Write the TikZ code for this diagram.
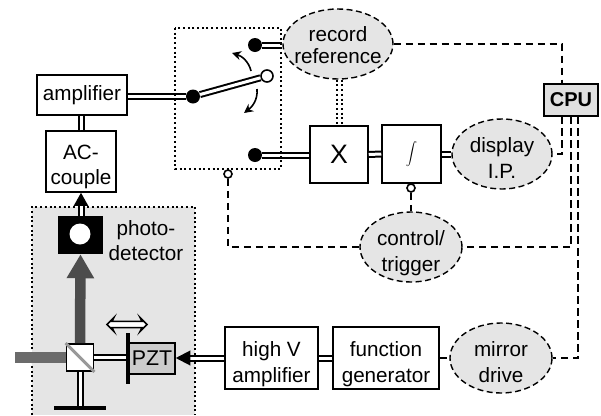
\documentclass[tikz,border=0pt]{standalone}
\usepackage{fontspec}
\setmainfont{Liberation Sans}
\usetikzlibrary{arrows.meta,shapes.geometric,shapes.arrows,calc}
\definecolor{panel}{gray}{0.9}
\definecolor{pztgray}{gray}{0.8}
\definecolor{beamdark}{gray}{0.3}
\definecolor{beamlight}{gray}{0.42}
\newlength{\pix}\setlength{\pix}{0.75pt}
\tikzset{
  txt/.style={font=\fontsize{15.5}{18.8}\selectfont,align=center,text=black},
  blockbox/.style={draw,line width=1.5\pix,fill=white,inner sep=0pt,txt,minimum width=#1},
  ovalnode/.style={ellipse,draw,dash pattern=on 6\pix off 3.5\pix,line width=1.4\pix,fill=panel,inner sep=-30pt,txt,minimum width=#1,minimum height=70\pix},
  dbl/.style={double,double distance=3\pix,line width=2\pix},
  sig/.style={dash pattern=on 7.5\pix off 4.5\pix,line width=1.4\pix},
  dotline/.style={dash pattern=on 2\pix off 2.7\pix,line width=2\pix},
  dotblack/.style={circle,fill=black,inner sep=0pt,minimum size=#1},
  dotopen/.style={circle,draw,line width=1.6\pix,fill=white,inner sep=0pt,minimum size=#1},
  bent/.style={line width=1.6\pix,-{Stealth[length=6.75pt,width=6.75pt]}},
  baselow/.style={text height=#1,text depth=0pt},
  pic px/.style={x=\pix,y=-\pix},
}
\begin{document}
\begin{tikzpicture}[pic px]
\useasboundingbox (0,0) rectangle (601,415);
% grey panel
\fill[panel] (32,207) rectangle (195,415);
\draw[dotline] (32,415) -- (32,207) -- (195,207) -- (195,415);
% blocks
\node[blockbox=90\pix,minimum height=40\pix] (amp) at (82,95) {amplifier};
\node[blockbox=70\pix,minimum height=61\pix,baselow=35pt] (ac) at (81,161.5) {AC-\\couple};
\node[blockbox=58\pix,minimum height=57\pix,font=\fontsize{20}{24}\selectfont] (mult) at (339,154.5) {X};
\node[blockbox=59\pix,minimum height=58\pix] (integ) at (411.5,154) {\scalebox{0.85}{$\displaystyle\int$}};
\node[blockbox=93\pix,minimum height=62\pix,baselow=36pt] (hv) at (271.5,358) {high V\\amplifier};
\node[blockbox=106\pix,minimum height=62\pix,baselow=36pt] (fg) at (386,358) {function\\generator};
% ovals
\node[ovalnode=110\pix,font=\fontsize{15.5}{15.8}\selectfont,baselow=28.5pt] (rec) at (338,44) {record\\reference};
\node[ovalnode=100\pix,baselow=36pt] (disp) at (502,154) {display\\I.P.};
\node[ovalnode=102\pix,baselow=36pt] (ctrl) at (411,247) {control/\\trigger};
\node[ovalnode=102\pix,baselow=36pt] (mdrive) at (501,358) {mirror\\drive};
% CPU
\node[draw,line width=2.4\pix,fill=black!12,inner sep=0pt,minimum width=54\pix,minimum height=32\pix,font=\fontsize{15}{18}\selectfont\bfseries] (cpu) at (571,100) {CPU};
\coordinate (cpua) at (562,84);
\coordinate (cpub) at (562,116);
\coordinate (cpuc) at (571,116);
\coordinate (cpud) at (578,116);
% optics
\node[fill=black,minimum width=45\pix,minimum height=38\pix,inner sep=0pt] (det) at (80.5,235) {};
\node[circle,fill=white,inner sep=0pt,minimum size=21\pix] (detc) at (80,234) {};
\node[draw,line width=1.8\pix,fill=white,minimum size=27\pix,inner sep=0pt] (cube) at (80,357.5) {};
\node[draw,line width=1.5\pix,fill=pztgray,inner sep=0pt,minimum width=46\pix,minimum height=31\pix,font=\fontsize{16}{19}\selectfont] (pzt) at (152,358.5) {PZT};
\node[fill=black,inner sep=0pt,minimum width=4\pix,minimum height=51\pix] (mirr) at (128,358) {};
\node[fill=black,inner sep=0pt,minimum width=52\pix,minimum height=4\pix] (refm) at (80,408) {};
\coordinate (beamin) at (15,357.5);
\node[txt] (phlabel) at (146,241) {photo-\\detector};
\node[double arrow,draw,line width=1.5\pix,fill=white,minimum height=40\pix,minimum width=14\pix,inner sep=2\pix,double arrow head extend=3.5\pix,double arrow head indent=2\pix] (move) at (127,324.5) {};
% beams
\draw[line width=11\pix,beamlight] (beamin) -- (cube.west);
\draw[line width=10.5\pix,beamdark,-{Triangle[length=18pt,width=19.5pt]}] (cube.north) -- (det.south);
\draw[line width=3\pix,black!40] (cube.north west) -- (cube.south east);
% optical/electrical double connectors
\draw[dbl] (cube.east) -- (mirr.west |- cube.east);
\draw[dbl] (cube.south) -- (refm.north);
\draw[dbl] (ac.north) -- (ac.north |- amp.south);
\draw[dbl,-{Triangle[length=9.75pt,width=10.5pt]}] (det.north -| ac.south) -- (ac.south);
\draw[dbl,-{Triangle[length=11pt,width=11pt]}] (hv.west) -- (pzt.east |- hv.west);
\draw[dbl] (fg.west) -- (hv.east);
% switch
\node[dotblack=14\pix] (pivot) at (193,96.5) {};
\node[dotopen=12\pix] (throw) at (267,76) {};
\node[dotblack=14\pix] (upper) at (255,45) {};
\node[dotblack=14\pix] (lower) at (255,155) {};
\draw[dbl] (amp.east |- pivot) -- (pivot.west);
\draw[dbl] (pivot) -- (throw);
\draw[dbl] (upper.east) -- (rec.west |- upper);
\draw[dbl] (lower.east) -- (mult.west |- lower);
\draw[dbl] (mult.east) -- (integ.west);
\draw[dbl] (integ.east) -- (disp.west);
% curved arrows
\coordinate (ua) at (251,71);
\coordinate (ub) at (232,53);
\coordinate (la) at (257,89);
\coordinate (lb) at (244,113);
\draw[bent] (ua) .. controls (249,62) and (242,56) .. (ub);
\draw[bent] (la) .. controls (258,100) and (252,107) .. (lb);
% dotted switch box
\draw[dotline] (175,28) rectangle (281,169);
% dotted double line
\coordinate (dxa) at (337,0);
\coordinate (dxb) at (342,0);
\draw[dotline,line width=2.2\pix] (rec.south -| dxa) -- (mult.north -| dxa);
\draw[dotline,line width=2.2\pix] (rec.south -| dxb) -- (mult.north -| dxb);
% signal lines
\node[dotopen=8\pix] (swctl) at (228,174) {};
\node[dotopen=8\pix] (intctl) at (411,188) {};
\draw[sig] (swctl.south) -- (swctl.south |- ctrl.west) -- (ctrl.west);
\draw[sig] (intctl.south) -- (ctrl.north);
\draw[sig] (rec.east) -| (cpua);
\draw[sig] (cpub) |- (disp.east);
\draw[sig] (cpuc) |- (ctrl.east);
\draw[sig] (cpud) |- (mdrive.east);
\draw[sig] (fg.east) -- (mdrive.west);
\end{tikzpicture}
\end{document}
